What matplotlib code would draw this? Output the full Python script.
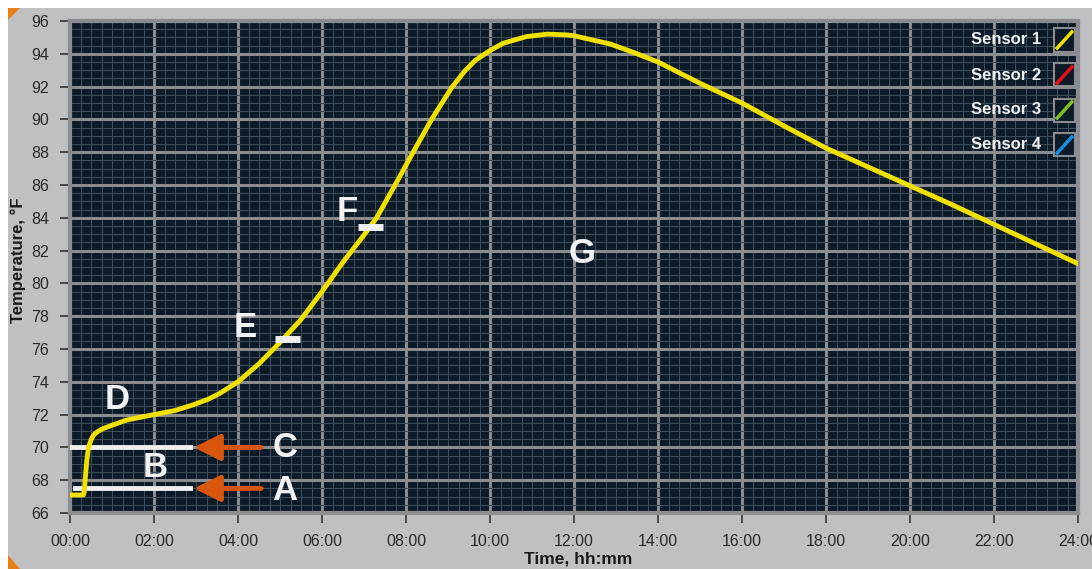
import numpy as np
import matplotlib
matplotlib.use('Agg')
import matplotlib.pyplot as plt
from matplotlib.patches import Rectangle, Polygon
from matplotlib.ticker import MultipleLocator

# sensor 1 reading, time in hours, temperature in F
hours = [0, 0.32, 0.34, 0.36, 0.4, 0.44, 0.5, 0.56, 0.65, 0.79, 1.0, 1.35, 1.7, 2.0,
         2.5, 2.94, 3.3, 3.57, 4.0, 4.5, 5.0, 5.5, 6.0, 6.5, 7.0, 7.3, 7.74, 8.17,
         8.61, 9.09, 9.4, 9.65, 10.0, 10.32, 10.87, 11.36, 11.83, 12.0, 12.86, 13.4,
         14.0, 15.0, 16.0, 17.0, 18.0, 19.0, 20.0, 21.0, 22.0, 23.0, 24.0]
temps = [67.1, 67.1, 67.3, 68.0, 69.2, 70.0, 70.45, 70.75, 70.95, 71.15, 71.35, 71.67,
         71.85, 72.0, 72.25, 72.6, 72.95, 73.3, 74.0, 75.1, 76.4, 77.8, 79.5, 81.3,
         82.95, 84.0, 86.0, 88.0, 90.0, 91.95, 92.95, 93.6, 94.2, 94.65, 95.05, 95.2,
         95.15, 95.1, 94.6, 94.1, 93.5, 92.2, 91.0, 89.6, 88.25, 87.1, 85.95, 84.8,
         83.6, 82.4, 81.2]

x_ticks = list(range(0, 25, 2))
x_labels = ['%02d:00' % h for h in x_ticks]
y_ticks = list(range(66, 97, 2))

sensors = ['Sensor 1', 'Sensor 2', 'Sensor 3', 'Sensor 4']
sensor_colors = ['#f0e000', '#e81010', '#80c020', '#1890e0']

# reference levels (A, C) and markers (E, F)
level_a = 67.5
level_c = 70.0
mark_e = (4.88, 5.48, 76.6)
mark_f = (6.86, 7.45, 83.45)

letters = {'A': (5.12, 67.4), 'B': (2.02, 68.75), 'C': (5.12, 70.0), 'D': (1.12, 72.9),
           'E': (4.17, 77.3), 'F': (6.6, 84.4), 'G': (12.2, 81.85)}

fig = plt.figure(figsize=(10.92, 5.69), dpi=100)
fig.patch.set_facecolor('white')
# gray panel behind everything
fig.patches.append(Rectangle((8 / 1092, 0), 1, 1 - 8 / 569, transform=fig.transFigure,
                             facecolor='#bfc0c2', edgecolor='none', zorder=-10))
fig.patches.append(Polygon([[8 / 1092, 1 - 8 / 569], [20 / 1092, 1 - 8 / 569], [8 / 1092, 1 - 20 / 569]],
                           closed=True, transform=fig.transFigure, facecolor='#e8801a',
                           edgecolor='none', zorder=-9))
fig.patches.append(Polygon([[8 / 1092, 14 / 569], [20 / 1092, 0], [8 / 1092, 0]],
                           closed=True, transform=fig.transFigure, facecolor='#e8801a',
                           edgecolor='none', zorder=-9))

ax = fig.add_axes([70 / 1092, 56 / 569, 1008 / 1092, 492 / 569])
ax.set_facecolor('#0d1b29')
ax.set_xlim(0, 24)
ax.set_ylim(66, 96)

ax.xaxis.set_minor_locator(MultipleLocator(0.25))
ax.yaxis.set_minor_locator(MultipleLocator(0.5))
ax.set_xticks(x_ticks)
ax.set_xticklabels(x_labels)
ax.set_yticks(y_ticks)
ax.grid(which='minor', color='#3c4b58', linewidth=0.8)
ax.grid(which='major', color='#8a8c90', linewidth=2.2)
ax.set_axisbelow(True)
ax.tick_params(which='minor', length=0)
ax.tick_params(which='major', direction='out', length=7, width=1.2, color='#333333',
               labelsize=11.5, labelcolor='#2a2a2a', pad=8)
for lab in ax.get_xticklabels() + ax.get_yticklabels():
    lab.set_family('Liberation Sans')
for s in ax.spines.values():
    s.set_color('#8a8c90')
    s.set_linewidth(3)

ax.plot(hours, temps, color=sensor_colors[0], linewidth=3.5, zorder=5,
        solid_joinstyle='round', solid_capstyle='round')

# white level lines and orange arrows
ax.plot([0, 2.86], [level_c, level_c], color='#eeeeee', linewidth=3.5, zorder=4)
ax.plot([0.12, 2.86], [level_a, level_a], color='#eeeeee', linewidth=3.5, zorder=4)
for lv in [level_c, level_a]:
    ax.annotate('', xy=(2.95, lv), xytext=(4.55, lv),
                arrowprops=dict(arrowstyle='-|>,head_length=1.1,head_width=0.55',
                                mutation_scale=14.5, shrinkA=0, shrinkB=0,
                                color='#d8560e', linewidth=3.5), zorder=6)

for m in [mark_e, mark_f]:
    ax.plot([m[0], m[1]], [m[2], m[2]], color='#eeeeee', linewidth=5, solid_capstyle='butt', zorder=6)

for k, (lx, ly) in letters.items():
    ax.text(lx, ly, k, color='#f2f2f2', fontsize=25, fontweight='bold', ha='center',
            va='center', family='Liberation Sans', zorder=7)

# legend boxes
for i, (name, col) in enumerate(zip(sensors, sensor_colors)):
    yc = 1 - (40 - 21 + i * 35) / 492
    ax.text(0.963, yc, name, transform=ax.transAxes, color='#f0f0f0', fontsize=12,
            fontweight='bold', ha='right', va='center', family='Liberation Sans', zorder=8)
    bx, bw = 1 - 24 / 1008, 21 / 1008
    bh = 23 / 492
    ax.add_patch(Rectangle((bx, yc - bh / 2), bw, bh, transform=ax.transAxes,
                           facecolor='#0d1b29', edgecolor='#8a8c90', linewidth=1.5, zorder=8))
    ax.plot([bx + bw * 0.15, bx + bw * 0.85], [yc - bh * 0.35, yc + bh * 0.35],
            transform=ax.transAxes, color=col, linewidth=2.5, zorder=9)

fig.text(18 / 1092, 1 - 260 / 569, 'Temperature, \u00b0F', rotation=90, fontsize=12, fontweight='bold',
         color='#1a1a1a', ha='center', va='center', family='Liberation Sans')
fig.text(578 / 1092, 17 / 569, 'Time, hh:mm', fontsize=12.5, fontweight='bold',
         color='#1a1a1a', ha='center', va='top', family='Liberation Sans')

fig.savefig('out.png', dpi=100, facecolor=fig.get_facecolor())
